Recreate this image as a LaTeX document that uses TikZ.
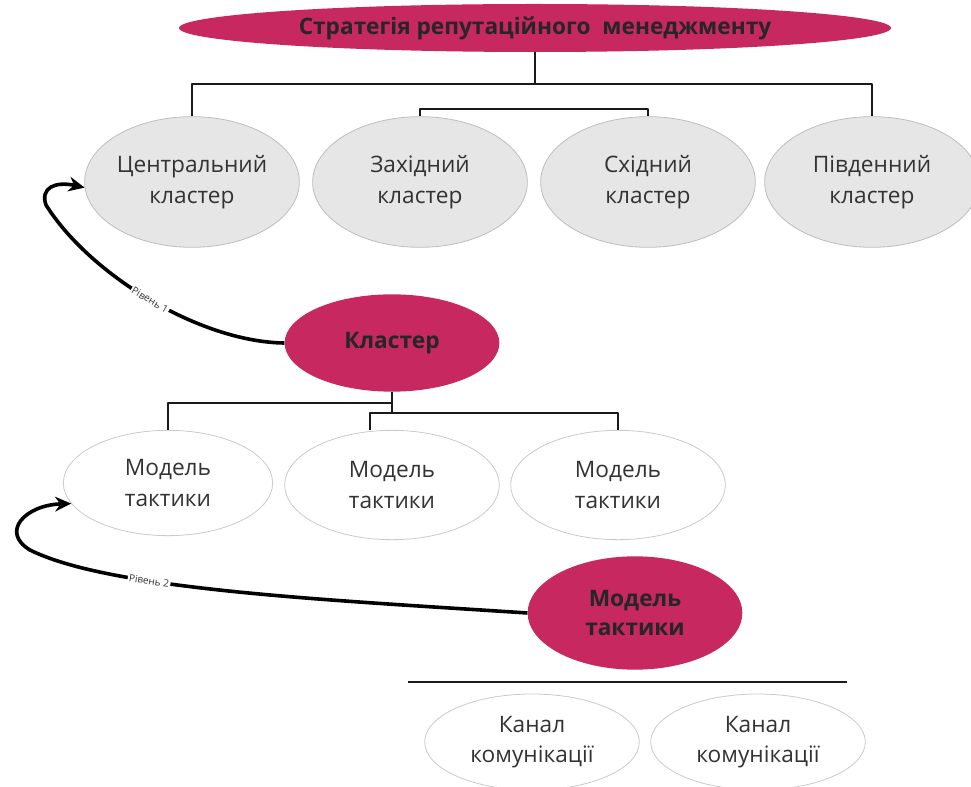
\documentclass[tikz,border=0pt]{standalone}
\usepackage{fontspec}
\setmainfont{Open Sans}
\usetikzlibrary{shapes.geometric,arrows.meta}
\definecolor{rose}{HTML}{C6285F}
\definecolor{greyfill}{HTML}{E6E6E6}
\definecolor{greyline}{HTML}{BDBDBD}
\definecolor{ink}{HTML}{333333}
\definecolor{wire}{HTML}{1A1A1A}
\tikzset{
  head/.style={ellipse, fill=rose, draw=none, inner sep=0pt, align=center, text=black!85, font=\bfseries\fontsize{17}{22}\selectfont},
  clus/.style={ellipse, fill=greyfill, draw=greyline, line width=0.6pt, inner sep=0pt, minimum width=161pt, minimum height=98pt, align=center, text=ink, font=\fontsize{17}{23}\selectfont},
  tact/.style={clus, fill=white, draw=greyline!80, minimum width=157pt, minimum height=79pt},
  link/.style={draw=wire, line width=1.5pt, line join=round},
  lvl/.style={draw=black, line width=2.7pt, -{Stealth[length=12pt,width=11pt]}},
  lvllab/.style={fill=white, inner sep=1pt, text=ink, sloped, font=\fontsize{7.5}{8}\selectfont},
}
\begin{document}
\begin{tikzpicture}[x=0.75pt, y=-0.75pt]
  \useasboundingbox (0,0) rectangle (971,787);

  % strategy and clusters
  \node[head, minimum width=534pt, minimum height=36pt] (strat) at (535,28) {Стратегія репутаційного\ \ менеджменту};
  \node[clus] (central) at (192,182) {Центральний\\кластер};
  \node[clus] (west) at (420,182) {Західний\\кластер};
  \node[clus] (east) at (648,182) {Східний\\кластер};
  \node[clus] (south) at (872,182) {Південний\\кластер};

  \coordinate (bar1) at (0,84);
  \draw[link] (central.north) |- (bar1 -| south.north) -- (south.north);
  \draw[link] (strat.south) -- (strat.south |- bar1);
  \draw[link] (west.north) -- ++(0,-7) -| (east.north);

  % level 1
  \node[head, minimum width=161pt, minimum height=73pt] (cluster) at (392,343) {Кластер};
  \node[tact] (tac1) at (168,483) {Модель\\тактики};
  \node[tact, minimum width=161pt, minimum height=82pt] (tac2) at (392,485) {Модель\\тактики};
  \node[tact, minimum width=161pt, minimum height=82pt] (tac3) at (618,485) {Модель\\тактики};

  \draw[link] (cluster.south) -- ++(0,21) coordinate (bar2);
  \draw[link] (cluster.south) -- ++(0,11) -| (tac1.north);
  \draw[link] (tac2.north -| 370,0) -- ++(0,-17) -| (tac3.north);
  \draw[link] (bar2) -- ++(-22,0);

  \draw[lvl] (cluster.west) .. controls (200,342) and (90,275) .. (46,205)
    node[lvllab, pos=0.5] {Рівень 1}
    .. controls (40,188) and (55,181) .. (central.183);

  % level 2
  \node[head, minimum width=161pt, minimum height=85pt] (model) at (635,613) {Модель\\тактики};
  \node[tact, minimum width=161pt, minimum height=72pt] (chan1) at (532,742) {Канал\\комунікації};
  \node[tact, minimum width=161pt, minimum height=72pt] (chan2) at (758,742) {Канал\\комунікації};

  \coordinate (barl) at (408,682);
  \coordinate (barr) at (847,682);
  \draw[link, line width=2.2pt] (barl) -- (barr);

  \draw[lvl] (model.west) .. controls (330,600) and (110,590) .. (30,550)
    node[lvllab, pos=0.67] {Рівень 2}
    .. controls (0,532) and (25,505) .. (tac1.192);
\end{tikzpicture}
\end{document}
